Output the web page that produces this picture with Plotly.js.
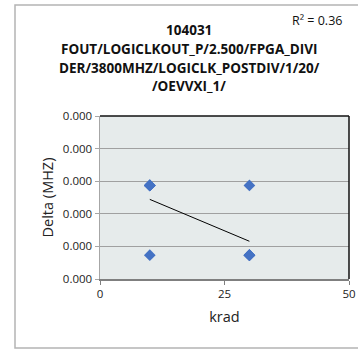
<!DOCTYPE html>
<html>
<head>
<meta charset="utf-8">
<script src="https://cdn.plot.ly/plotly-3.0.1.min.js"></script>
<style>html,body{margin:0;padding:0;background:#fff;}#chart{width:358px;height:349px;}</style>
</head>
<body>
<div id="chart"></div>
<script>
// Data (x in krad, delta in MHz)
const kradValues = [10, 10, 10, 10, 10, 30, 30, 30, 30, 30];
const deltaValues = [0.000287, 0.000287, 0.000287, 0.000287, 0.000073,
                     0.000287, 0.000073, 0.000073, 0.000073, 0.000073];
const xTicks = [0, 25, 50];
const yTicks = [0, 0.0001, 0.0002, 0.0003, 0.0004, 0.0005];
const yTickLabels = ['0.000', '0.000', '0.000', '0.000', '0.000', '0.000'];
const titleLines = ['104031', 'FOUT/LOGICLKOUT_P/2.500/FPGA_DIVI', 'DER/3800MHZ/LOGICLK_POSTDIV/1/20/', '/OEVVXI_1/'];
const r2Label = 'R² = 0.36';

// linear least-squares trend from the data
const n = kradValues.length;
const mx = kradValues.reduce((a,b)=>a+b,0)/n;
const my = deltaValues.reduce((a,b)=>a+b,0)/n;
let sxy = 0, sxx = 0;
for (let i=0;i<n;i++){ sxy += (kradValues[i]-mx)*(deltaValues[i]-my); sxx += (kradValues[i]-mx)**2; }
const slope = sxy/sxx, icpt = my - slope*mx;
const xmin = Math.min(...kradValues), xmax = Math.max(...kradValues);
const trendX = [xmin, xmax];
const trendY = trendX.map(x => icpt + slope*x);

const FONT = 'Open Sans, Liberation Sans, Arial, sans-serif';

// plot area in pixels (used to place paper-referenced items)
const PL = 100, PR = 349, PT = 116, PB = 279;
const px = p => (p - PL) / (PR - PL);
const py = p => (PB - p) / (PB - PT);

const data = [
  {x: kradValues, y: deltaValues, type: 'scatter', mode: 'markers',
   marker: {symbol: 'diamond', size: 9, color: '#4472C4'}, hoverinfo: 'none'},
  {x: trendX, y: trendY, type: 'scatter', mode: 'lines',
   line: {color: '#000000', width: 1}, hoverinfo: 'none'}
];

const titleY = [30, 49, 67.5, 86];
const annotations = titleLines.map((t, i) => ({
  text: '<b>' + t + '</b>', xref: 'paper', yref: 'paper', x: px(189), y: py(titleY[i]),
  xanchor: 'center', yanchor: 'middle', showarrow: false,
  font: {family: FONT, size: 13.5, color: '#111'}
}));
annotations.push({text: r2Label, xref: 'paper', yref: 'paper', x: px(344), y: py(20),
  xanchor: 'right', yanchor: 'middle', showarrow: false, font: {family: FONT, size: 12.5, color: '#111'}});

const layout = {
  width: 358, height: 349,
  margin: {l: PL, r: 358 - PR, t: PT, b: 349 - PB},
  paper_bgcolor: '#ffffff',
  plot_bgcolor: '#e6ebeb',
  showlegend: false,
  font: {family: FONT, size: 11.5, color: '#222'},
  xaxis: {range: [0, 50], tickvals: xTicks, ticktext: xTicks.map(String),
          showgrid: false, zeroline: false, showline: true, linecolor: '#7f7f7f', linewidth: 1.5,
          ticks: 'outside', ticklen: 4, tickcolor: '#7f7f7f',
          tickfont: {family: FONT, size: 11.5, color: '#222'},
          title: {text: 'krad', font: {family: FONT, size: 14.5, color: '#222'}, standoff: 11}},
  yaxis: {range: [0, 0.0005], tickvals: yTicks, ticktext: yTickLabels,
          showgrid: true, gridcolor: '#a0a0a0', gridwidth: 1, zeroline: false,
          showline: true, linecolor: '#a6a6a6', linewidth: 1.5,
          ticks: 'outside', ticklen: 4, tickcolor: '#a6a6a6',
          tickfont: {family: FONT, size: 11.5, color: '#222'},
          title: {text: 'Delta (MHZ)', font: {family: FONT, size: 14.5, color: '#222'}, standoff: 6}},
  shapes: [
    {type: 'line', xref: 'paper', yref: 'paper', x0: 0, x1: 1, y0: 1, y1: 1, line: {color: '#111', width: 1.5}},
    {type: 'line', xref: 'paper', yref: 'paper', x0: 1, x1: 1, y0: 0, y1: 1, line: {color: '#111', width: 1.5}},
    {type: 'rect', xref: 'paper', yref: 'paper', x0: px(15), x1: px(380), y0: py(348), y1: py(5),
     line: {color: '#b4b4b4', width: 1.5}, fillcolor: 'rgba(0,0,0,0)', layer: 'below'}
  ],
  annotations: annotations
};

Plotly.newPlot('chart', data, layout, {staticPlot: true, displayModeBar: false});
</script>
</body>
</html>
